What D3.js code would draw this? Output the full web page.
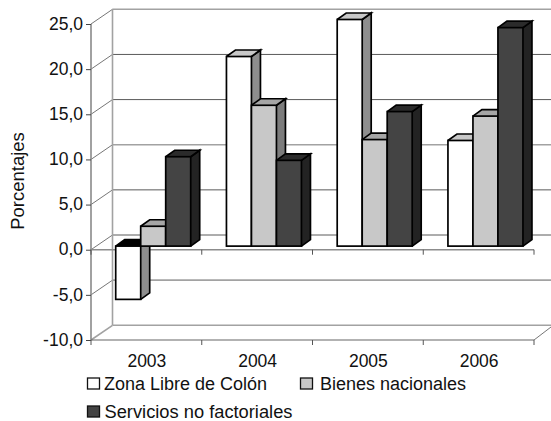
<!DOCTYPE html>
<html><head><meta charset="utf-8">
<script src="https://cdn.jsdelivr.net/npm/d3@7"></script>
<style>html,body{margin:0;background:#fff}svg{display:block}text{font-family:"Liberation Sans",Arial,sans-serif;fill:#111}</style>
</head><body><div id="c"></div>
<script>
const years=["2003","2004","2005","2006"];
const seriesNames=["Zona Libre de Colón","Bienes nacionales","Servicios no factoriales"];
const zonaLibre=[-5.9,21.0,25.1,11.7];
const bienes=[2.2,15.6,11.8,14.4];
const servicios=[9.9,9.5,14.9,24.2];
const yTicks=[-10,-5,0,5,10,15,20,25];

const W=551,H=421;
const svg=d3.select("#c").append("svg").attr("width",W).attr("height",H);
const y=d3.scaleLinear().domain([-10,25]).range([340,24]);
const x=d3.scaleBand().domain(years).range([91,534]);
const fmt=v=>d3.format(".1f")(v).replace(".",",").replace("−","-");
const depth={x:21.5,y:14.7};
const styles=[
 {front:"#fff",top:"#c8c8c8",side:"#8e8e8e"},
 {front:"#c8c8c8",top:"#a6a6a6",side:"#7c7c7c"},
 {front:"#444",top:"#2b2b2b",side:"#232323"}];
const thick=new Set([25,10,-5,-10]);
const gridStyle=v=>thick.has(v)?{c:"#a2a2a2",w:1.6}:{c:"#5a5a5a",w:1};

// walls
const g=svg.append("g");
yTicks.forEach(v=>{
  const s=gridStyle(v);
  g.append("line").attr("x1",x.range()[0]+depth.x).attr("x2",W).attr("y1",y(v)-depth.y).attr("y2",y(v)-depth.y).attr("stroke",s.c).attr("stroke-width",s.w);
  g.append("line").attr("x1",x.range()[0]).attr("x2",x.range()[0]+depth.x).attr("y1",y(v)).attr("y2",y(v)-depth.y).attr("stroke",v===-10?"#a2a2a2":"#666").attr("stroke-width",v===-10?1.6:.9);
});
g.append("line").attr("x1",112.5).attr("x2",112.5).attr("y1",y(25)-depth.y).attr("y2",y(-10)-depth.y).attr("stroke","#a2a2a2").attr("stroke-width",1.6);
g.append("line").attr("x1",91).attr("x2",91).attr("y1",y(25)).attr("y2",y(-10)).attr("stroke","#8a8a8a").attr("stroke-width",1.6);
g.append("line").attr("x1",534).attr("x2",W).attr("y1",y(-10)).attr("y2",y(-10)-13).attr("stroke","#666").attr("stroke-width",.9);

// axis lines
const yAxis=d3.axisLeft(y).tickValues(yTicks).tickFormat(fmt).tickSize(5).tickPadding(3);
const ay=svg.append("g").attr("transform","translate(91,0)").call(yAxis);
ay.select(".domain").remove();
ay.selectAll("line").attr("stroke","#444");
ay.selectAll("text").style("font-size","17.5px").attr("fill","#111").attr("dy","0.3em");

[0,-10].forEach(v=>{
  const edges=x.domain().map(d=>x(d)).concat([x.range()[1]]);
  const a=svg.append("g").attr("transform",`translate(0,${y(v)})`);
  a.append("line").attr("x1",91).attr("x2",534).attr("stroke",v===0?"#8c8c8c":"#666").attr("stroke-width",v===0?1.4:1.1);
  a.selectAll("line.t").data(edges).enter().append("line").attr("class","t").attr("x1",d=>d).attr("x2",d=>d).attr("y1",0).attr("y2",5).attr("stroke","#555");
});

// category labels
svg.append("g").selectAll("text").data(years).enter().append("text")
 .attr("x",d=>x(d)+x.bandwidth()/2+0.5).attr("y",y(-10)+27).attr("text-anchor","middle").style("font-size","17.5px").text(d=>d);

// bars
const barW=25, barOff=25, dx=9, dy=6.5, shift=3.6;
const values=[zonaLibre,bienes,servicios];
const barsG=svg.append("g");
years.forEach((yr,i)=>{
  values.forEach((vals,k)=>{
    const v=vals[i], st=styles[k];
    const x0=x(yr)+barOff+k*barW-0.3, x1=x0+barW;
    const yb=y(0)-shift, yt=y(v)-shift;
    const top=Math.min(yb,yt), bot=Math.max(yb,yt);
    const b=barsG.append("g").attr("stroke","#000").attr("stroke-width",1.7).attr("stroke-linejoin","miter");
    b.append("path").attr("d",d3.line()([[x1,top],[x1+dx,top-dy],[x1+dx,bot-dy],[x1,bot]])).attr("fill",st.side);
    b.append("path").attr("d",d3.line()([[x0,top],[x0+dx,top-dy],[x1+dx,top-dy],[x1,top]])).attr("fill",v<0?"#000":st.top);
    b.append("rect").attr("x",x0).attr("y",top).attr("width",barW).attr("height",bot-top).attr("fill",st.front);
  });
});

// y title
svg.append("text").attr("transform","translate(24,181) rotate(-90)").attr("text-anchor","middle").style("font-size","18.5px").text("Porcentajes");

// legend
const legendItems=seriesNames.map((n,k)=>({n,k}));
const lg=svg.append("g").selectAll("g").data(legendItems).enter().append("g")
 .attr("transform",d=>`translate(${[87.5,300.5,87.5][d.k]},${[384,384,412][d.k]})`);
lg.append("rect").attr("x",0).attr("y",-6).attr("width",12).attr("height",11).attr("fill",d=>styles[d.k].front).attr("stroke","#111").attr("stroke-width",1.3);
lg.append("text").attr("x",d=>[16.5,19.5,17][d.k]).attr("y",5.5).style("font-size",d=>d.k===2?"18.3px":"18px").text(d=>d.n);
</script></body></html>
